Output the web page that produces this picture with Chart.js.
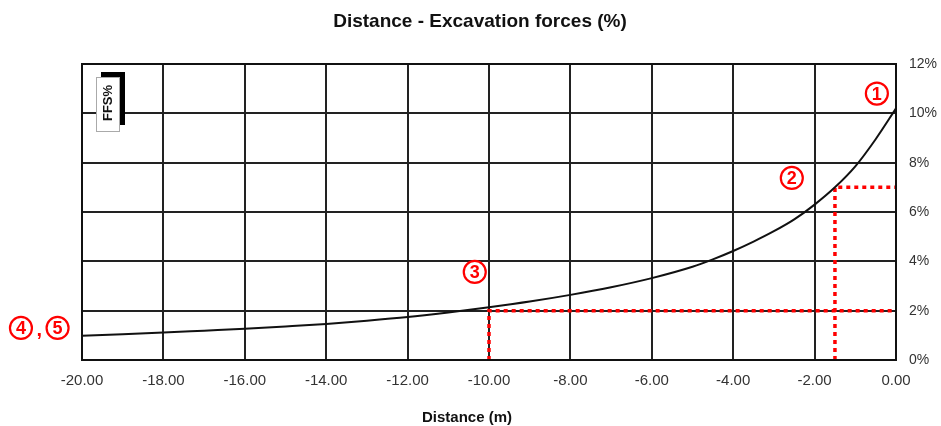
<!DOCTYPE html>
<html><head><meta charset="utf-8">
<script src="https://cdn.jsdelivr.net/npm/chart.js@4.4.1/dist/chart.umd.min.js"></script>
<style>html,body{margin:0;padding:0;background:#fff;}#wrap{width:941px;height:426px;}</style>
</head><body><div id="wrap"><canvas id="c" width="941" height="426"></canvas></div>
<script>
const chartTitle = "Distance - Excavation forces (%)";
const xTitle = "Distance (m)";
const legendLabel = "FFS%";
const distance = [-20, -19, -18, -17, -16, -15, -14, -13, -12, -11, -10, -9, -8, -7, -6, -5, -4.5, -4, -3.5, -3, -2.5, -2, -1.5, -1, -0.5, 0];
const ffs = [0.98, 1.04, 1.11, 1.19, 1.27, 1.36, 1.46, 1.59, 1.74, 1.93, 2.14, 2.37, 2.64, 2.95, 3.32, 3.78, 4.08, 4.42, 4.8, 5.22, 5.7, 6.3, 7.0, 7.85, 8.95, 10.2];
const guide1X = [-10, -10, 0];
const guide1Y = [0, 2, 2];
const guide2X = [-1.5, -1.5, 0];
const guide2Y = [0, 7, 7];
const markerDigits = ["1", "2", "3", "4", "5"];
const markerX = [-0.47, -2.56, -10.35, -21.5, -20.6];
const markerY = [10.8, 7.38, 3.57, 1.3, 1.3];

const zip = (xs, ys) => xs.map((x, i) => ({x: x, y: ys[i]}));

const overlay = {
  id: 'overlay',
  afterDraw(chart) {
    const ctx = chart.ctx, xs = chart.scales.x, ys = chart.scales.y;
    ctx.save();
    ctx.textAlign = 'center'; ctx.textBaseline = 'middle';
    // title
    ctx.fillStyle = '#111';
    ctx.font = 'bold 19px "Liberation Sans", Arial, sans-serif';
    ctx.fillText(chartTitle, 480, 22);
    ctx.font = 'bold 15px "Liberation Sans", Arial, sans-serif';
    ctx.fillText(xTitle, 467, 418);
    // legend box
    ctx.fillStyle = '#000';
    ctx.fillRect(101, 72, 24, 53);
    ctx.fillStyle = '#fff';
    ctx.fillRect(96, 77, 24, 55);
    ctx.strokeStyle = '#aaa'; ctx.lineWidth = 1;
    ctx.strokeRect(96.5, 77.5, 23, 54);
    ctx.translate(108, 103);
    ctx.rotate(-Math.PI / 2);
    ctx.fillStyle = '#111';
    ctx.font = 'bold 13px "Liberation Sans", Arial, sans-serif';
    ctx.fillText(legendLabel, 0, 0);
    ctx.setTransform(1, 0, 0, 1, 0, 0);
    // circled markers
    ctx.strokeStyle = '#ff0000'; ctx.fillStyle = '#ff0000'; ctx.lineWidth = 2.2;
    ctx.font = 'bold 18px "Liberation Sans", Arial, sans-serif';
    markerDigits.forEach((t, i) => {
      const px = xs.getPixelForValue(markerX[i]), py = ys.getPixelForValue(markerY[i]);
      ctx.beginPath(); ctx.arc(px, py, 11, 0, Math.PI * 2); ctx.stroke();
      ctx.fillText(t, px, py + 1);
    });
    // comma between 4 and 5
    const cx = (xs.getPixelForValue(markerX[3]) + xs.getPixelForValue(markerX[4])) / 2;
    ctx.font = 'bold 20px "Liberation Sans", Arial, sans-serif';
    ctx.fillText(",", cx, ys.getPixelForValue(markerY[3]) + 3);
    ctx.restore();
  }
};

new Chart(document.getElementById('c'), {
  type: 'scatter',
  data: {
    datasets: [
      {data: zip(distance, ffs), showLine: true, borderColor: '#111', borderWidth: 2, pointRadius: 0, tension: 0.4, cubicInterpolationMode: 'monotone', order: 1},
      {data: zip(guide1X, guide1Y), showLine: true, borderColor: '#ff0000', borderWidth: 3.5, borderDash: [4, 4], pointRadius: 0, order: 2},
      {data: zip(guide2X, guide2Y), showLine: true, borderColor: '#ff0000', borderWidth: 3.5, borderDash: [4, 4], pointRadius: 0, order: 2}
    ]
  },
  options: {
    responsive: false,
    animation: false,
    layout: {padding: {left: 82, top: 64, right: 0, bottom: 0}},
    plugins: {legend: {display: false}, title: {display: false}, tooltip: {enabled: false}},
    scales: {
      x: {
        type: 'linear', min: -20, max: 0,
        afterFit(s) { s.height = 66; },
        border: {display: true, color: '#111', width: 2},
        grid: {color: '#222', lineWidth: 2, drawTicks: false},
        ticks: {stepSize: 2, padding: 12, color: '#333', font: {family: '"Liberation Sans", Arial, sans-serif', size: 15}, callback: v => v.toFixed(2), maxRotation: 0}
      },
      y: {
        position: 'right', min: 0, max: 12,
        afterFit(s) { s.width = 45; },
        border: {display: true, color: '#111', width: 2},
        grid: {color: '#222', lineWidth: 2, drawTicks: false},
        ticks: {stepSize: 2, padding: 13, color: '#333', font: {family: '"Liberation Sans", Arial, sans-serif', size: 14}, callback: v => v + '%'}
      }
    }
  },
  plugins: [overlay, {
    id: 'frame',
    afterDatasetsDraw(chart) {
      const ctx = chart.ctx, a = chart.chartArea;
      ctx.save(); ctx.strokeStyle = '#111'; ctx.lineWidth = 2;
      ctx.strokeRect(a.left, a.top, a.right - a.left, a.bottom - a.top);
      ctx.restore();
    }
  }]
});
</script></body></html>
